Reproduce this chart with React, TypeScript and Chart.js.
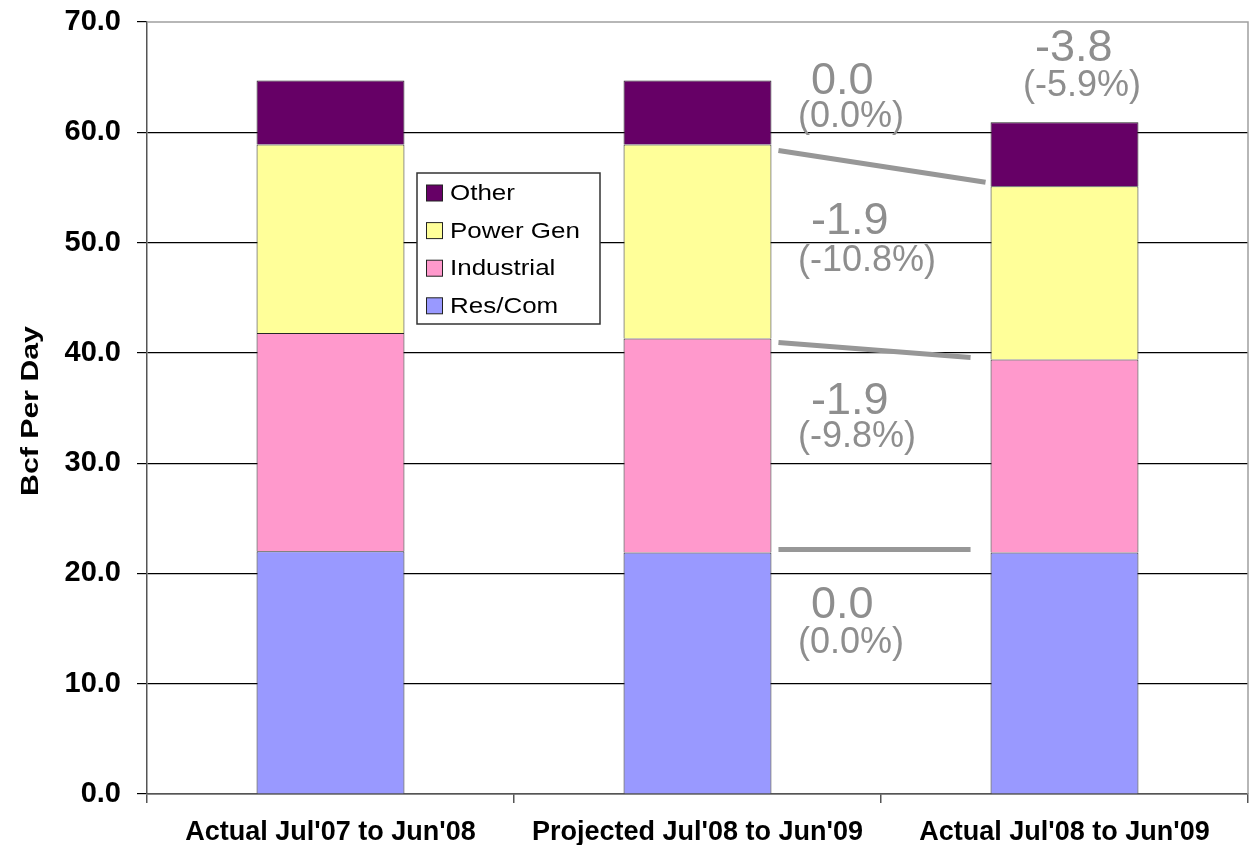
import { useEffect, useRef } from "react";
import { Chart, registerables } from "chart.js";

Chart.register(...registerables);

// Natural gas demand by sector, Bcf per day
const periods = ["Actual Jul'07 to Jun'08", "Projected Jul'08 to Jun'09", "Actual Jul'08 to Jun'09"];
const sectors = ["Res/Com", "Industrial", "Power Gen", "Other"];
const resCom = [22.0, 21.9, 21.9];
const industrial = [19.8, 19.4, 17.5];
const powerGen = [17.1, 17.6, 15.7];
const other = [5.8, 5.8, 5.8];
const sectorColors = ["#9999FF", "#FF99CC", "#FFFF99", "#660066"];
const yTitle = "Bcf Per Day";
const yMin = 0;
const yMax = 70;
const yStep = 10;

// periods compared by the change annotations
const BASE = 1;
const LATEST = 2;

const FONT = '"Liberation Sans", Arial, Helvetica, sans-serif';
const GRAY = "#8e8e8e";

const seriesBySector = [resCom, industrial, powerGen, other];

const fmt = (v: number) => (Math.abs(v) < 0.05 ? 0 : v).toFixed(1);

// Change labels, drawn at (value baseline, percent baseline) in axis units
const sectorLabelSpots = [
  { valueY: 16.0, pctY: 12.8 },
  { valueY: 34.5, pctY: 31.5 },
  { valueY: 50.8, pctY: 47.4 },
  { valueY: 63.5, pctY: 60.5 },
];
const totalLabelSpot = { valueY: 66.5, pctY: 63.3 };

// Connector lines between segment tops: [start dy, end dy, gap before next bar]
const connectorTweaks = [
  { dy0: -3, dy1: -3, gap: 20 },
  { dy0: 4, dy1: -2, gap: 20 },
  { dy0: 6, dy1: -4, gap: 5 },
];

const changePlugin = {
  id: "sectorChanges",
  afterDatasetsDraw(chart: any) {
    const { ctx } = chart;
    const y = chart.scales.y;
    const metas = sectors.map((_, i) => chart.getDatasetMeta(i));

    // connector lines
    ctx.save();
    ctx.strokeStyle = "#979797";
    ctx.lineWidth = 5;
    ctx.lineCap = "butt";
    connectorTweaks.forEach((t, i) => {
      const b0 = metas[i].data[BASE];
      const b1 = metas[i].data[LATEST];
      const x0 = b0.x + b0.width / 2 + 7;
      const x1 = b1.x - b1.width / 2 - t.gap;
      ctx.beginPath();
      ctx.moveTo(x0, b0.y + t.dy0);
      ctx.lineTo(x1, b1.y + t.dy1);
      ctx.stroke();
    });
    ctx.restore();

    // change labels
    ctx.save();
    ctx.fillStyle = GRAY;
    ctx.textAlign = "left";
    ctx.textBaseline = "alphabetic";
    const baseBar = metas[0].data[BASE];
    const xVal = baseBar.x + baseBar.width / 2 + 39.5;
    const xPct = baseBar.x + baseBar.width / 2 + 26.5;
    seriesBySector.forEach((s, i) => {
      const diff = s[LATEST] - s[BASE];
      const pct = (diff / s[BASE]) * 100;
      const spot = sectorLabelSpots[i];
      ctx.font = `45px ${FONT}`;
      ctx.fillText(fmt(diff), xVal, y.getPixelForValue(spot.valueY));
      ctx.font = `36px ${FONT}`;
      ctx.fillText(`(${fmt(pct)}%)`, xPct, y.getPixelForValue(spot.pctY));
    });

    const total = (k: number) => seriesBySector.reduce((acc, s) => acc + s[k], 0);
    const tDiff = total(LATEST) - total(BASE);
    const tPct = (tDiff / total(BASE)) * 100;
    const lastBar = metas[0].data[LATEST];
    ctx.font = `45px ${FONT}`;
    ctx.fillText(fmt(tDiff), lastBar.x - 29.5, y.getPixelForValue(totalLabelSpot.valueY));
    ctx.font = `36px ${FONT}`;
    ctx.fillText(`(${fmt(tPct)}%)`, lastBar.x - 41.5, y.getPixelForValue(totalLabelSpot.pctY));
    ctx.restore();
  },
};

// Boxed legend inside the plot, listed top segment first
const legendPlugin = {
  id: "boxedLegend",
  afterDraw(chart: any) {
    const { ctx, chartArea } = chart;
    const left = chartArea.left + 270;
    const top = chartArea.top + 151;
    const w = 183;
    const h = 151;
    ctx.save();
    ctx.fillStyle = "#ffffff";
    ctx.fillRect(left, top, w, h);
    ctx.strokeStyle = "#333333";
    ctx.lineWidth = 1.5;
    ctx.strokeRect(left, top, w, h);
    const items = chart.data.datasets.map((d: any) => d).reverse();
    ctx.font = `22px ${FONT}`;
    ctx.textBaseline = "middle";
    ctx.textAlign = "left";
    items.forEach((d: any, i: number) => {
      const cy = top + 20 + i * 37.6;
      ctx.fillStyle = d.backgroundColor;
      ctx.fillRect(left + 9.5, cy - 8, 16, 16);
      ctx.strokeStyle = "#222222";
      ctx.lineWidth = 1;
      ctx.strokeRect(left + 9.5, cy - 8, 16, 16);
      ctx.fillStyle = "#000000";
      ctx.save();
      ctx.translate(left + 33, cy + 1);
      ctx.scale(1.18, 1);
      ctx.fillText(d.label, 0, 0);
      ctx.restore();
    });
    ctx.restore();
  },
};

// Light frame on the top and right of the plot area, plus the axis title
const framePlugin = {
  id: "plotFrame",
  beforeDatasetsDraw(chart: any) {
    const { ctx, chartArea } = chart;
    ctx.save();
    ctx.strokeStyle = "#a0a0a0";
    ctx.lineWidth = 1.5;
    ctx.beginPath();
    ctx.moveTo(chartArea.left, chartArea.top);
    ctx.lineTo(chartArea.right, chartArea.top);
    ctx.lineTo(chartArea.right, chartArea.bottom);
    ctx.stroke();
    ctx.restore();
  },
  afterDraw(chart: any) {
    const { ctx, chartArea } = chart;
    ctx.save();
    ctx.translate(31, (chartArea.top + chartArea.bottom) / 2 + 3);
    ctx.rotate(-Math.PI / 2);
    ctx.scale(1.26, 1);
    ctx.font = `bold 24px ${FONT}`;
    ctx.fillStyle = "#000000";
    ctx.textAlign = "center";
    ctx.textBaseline = "middle";
    ctx.fillText(yTitle, 0, 0);
    ctx.restore();
  },
};

export default function App() {
  const canvasRef = useRef<HTMLCanvasElement | null>(null);

  useEffect(() => {
    const canvas = canvasRef.current;
    if (!canvas) return;
    const chart = new Chart(canvas, {
      type: "bar",
      data: {
        labels: periods,
        datasets: seriesBySector.map((data, i) => ({
          label: sectors[i],
          data,
          backgroundColor: sectorColors[i],
          borderColor: "#262626",
          borderWidth: 1,
          barPercentage: 0.403,
          categoryPercentage: 1,
        })),
      },
      options: {
        responsive: false,
        animation: false,
        layout: { padding: { top: 22, right: 1, left: 0, bottom: 0 } },
        plugins: {
          legend: { display: false },
          tooltip: { enabled: false },
        },
        scales: {
          x: {
            stacked: true,
            grid: {
              offset: true,
              drawOnChartArea: false,
              drawTicks: true,
              tickLength: 9,
              color: "#555555",
              lineWidth: 1.5,
            },
            border: { color: "#555555", width: 1.5 },
            ticks: {
              color: "#000000",
              padding: 13,
              maxRotation: 0,
              autoSkip: false,
              font: { family: FONT, size: 27, weight: "bold" },
            },
            afterFit: (scale: any) => {
              scale.height = 51;
              scale.paddingLeft = 0;
              scale.paddingRight = 0;
            },
          },
          y: {
            stacked: true,
            min: yMin,
            max: yMax,
            grid: {
              color: (c: any) => (c.tick && c.tick.value === yMax ? "rgba(0,0,0,0)" : "#000000"),
              tickColor: "#000000",
              tickLength: 10,
              lineWidth: 1.2,
            },
            border: { color: "#555555", width: 1.5 },
            ticks: {
              stepSize: yStep,
              color: "#000000",
              padding: 16,
              font: { family: FONT, size: 29, weight: "bold" },
              callback: (v: any) => Number(v).toFixed(1),
            },
            title: { display: false },
            afterFit: (scale: any) => {
              scale.width = 147;
              scale.paddingTop = 0;
              scale.paddingBottom = 0;
            },
          },
        },
      },
      plugins: [framePlugin, changePlugin, legendPlugin],
    });
    return () => chart.destroy();
  }, []);

  return (
    <div style={{ position: "fixed", left: 0, top: 0, width: 1249, height: 845, background: "#ffffff" }}>
      <canvas ref={canvasRef} width={1249} height={845} style={{ display: "block" }} />
    </div>
  );
}
